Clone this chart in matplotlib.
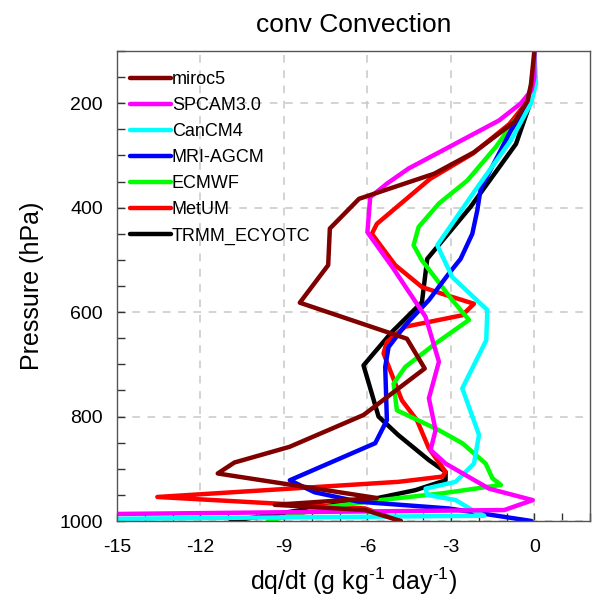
import matplotlib
matplotlib.use("Agg")
import matplotlib.pyplot as plt
from matplotlib.ticker import MultipleLocator, FixedLocator

plt.rcParams['font.family'] = ['Liberation Sans', 'DejaVu Sans']
plt.rcParams['axes.unicode_minus'] = False
plt.rcParams['mathtext.fontset'] = 'custom'
plt.rcParams['mathtext.rm'] = 'Liberation Sans'
plt.rcParams['mathtext.sf'] = 'Liberation Sans'

# convective moistening profiles, pressure (hPa) vs dq/dt (g/kg/day)
models = ["miroc5", "SPCAM3.0", "CanCM4", "MRI-AGCM", "ECMWF", "MetUM", "TRMM_ECYOTC"]
colors = ["#800000", "#ff00ff", "#00ffff", "#0000ff", "#00ff00", "#ff0000", "#000000"]

p_miroc5 = [100, 163, 195, 236, 294, 335, 383, 440, 510, 582, 651, 708, 797, 858, 888, 909, 956, 969, 979, 1000]
q_miroc5 = [0, -0.12, -0.24, -0.72, -2.17, -3.6, -6.3, -7.35, -7.41, -8.43, -4.58, -3.94, -6.14, -8.8, -10.78, -11.38, -5.66, -9.33, -6.08, -4.8]

p_spcam = [100, 150, 175, 200, 233, 284, 325, 354, 380, 447, 514, 609, 695, 765, 826, 864, 890, 938, 960, 979, 1000]
q_spcam = [0, 0, -0.1, -0.48, -1.27, -3.07, -4.52, -5.3, -5.9, -6.0, -5.1, -3.91, -3.43, -3.79, -3.55, -3.73, -3.19, -1.63, -0.06, -1.08, -40]

p_cancm4 = [100, 163, 200, 271, 361, 472, 533, 596, 654, 746, 835, 890, 925, 938, 950, 960, 979, 990, 1000]
q_cancm4 = [0, 0.06, -0.12, -0.84, -2.05, -3.49, -2.95, -1.69, -1.73, -2.59, -1.99, -2.17, -2.83, -3.91, -3.85, -2.83, -2.23, -1.8, -25]

p_mri = [100, 150, 201, 252, 364, 405, 450, 498, 526, 577, 625, 667, 705, 807, 851, 922, 945, 963, 976, 1000]
q_mri = [0, 0, -0.18, -0.84, -1.93, -2.05, -2.23, -2.65, -3.07, -3.79, -4.64, -5.24, -5.36, -5.3, -5.72, -8.79, -7.9, -6.32, -3.07, -0.1]

p_ecmwf = [100, 150, 200, 284, 348, 392, 437, 472, 501, 577, 615, 660, 705, 737, 788, 826, 851, 890, 918, 931, 947, 960, 973, 1000]
q_ecmwf = [0, 0, -0.25, -1.39, -2.41, -3.43, -4.16, -4.34, -4.04, -2.95, -2.35, -3.55, -4.64, -5.06, -4.94, -3.43, -2.59, -1.75, -1.51, -1.2, -3.31, -5.54, -7.41, -9.58]

p_metum = [100, 150, 200, 240, 297, 345, 431, 450, 510, 552, 565, 584, 606, 628, 657, 679, 769, 807, 861, 906, 915, 925, 954, 976, 1000]
q_metum = [0, 0, -0.3, -0.9, -2.23, -3.75, -5.66, -5.84, -5.0, -4.04, -3.31, -2.17, -2.59, -4.64, -5.3, -5.42, -4.76, -4.22, -3.79, -3.19, -3.31, -4.88, -13.55, -6.08, -4.8]

p_trmm = [100, 150, 200, 278, 399, 498, 581, 638, 702, 800, 835, 883, 906, 922, 941, 957, 1000]
q_trmm = [0, 0, -0.15, -0.66, -2.3, -3.85, -4.04, -5.12, -6.14, -5.6, -4.9, -3.8, -3.19, -3.19, -4.28, -5.72, -10.9]

profiles = [(q_miroc5, p_miroc5), (q_spcam, p_spcam), (q_cancm4, p_cancm4), (q_mri, p_mri),
            (q_ecmwf, p_ecmwf), (q_metum, p_metum), (q_trmm, p_trmm)]

fig = plt.figure(figsize=(5.96, 6.06), dpi=100)
ax = fig.add_axes([117 / 596, 1 - 521 / 606, 473 / 596, 470 / 606])

# last model in the list is drawn first so miroc5 ends up on top
handles = [None] * len(models)
for i in reversed(range(len(models))):
    q, p = profiles[i]
    line, = ax.plot(q, p, color=colors[i], lw=3.2, label=models[i],
                    solid_joinstyle='round', solid_capstyle='round')
    handles[i] = line

ax.set_xlim(-15, 2)
ax.set_ylim(1000, 100)

ax.xaxis.set_major_locator(FixedLocator([-15, -12, -9, -6, -3, 0]))
ax.xaxis.set_minor_locator(MultipleLocator(1))
ax.yaxis.set_major_locator(FixedLocator([200, 400, 600, 800, 1000]))
ax.yaxis.set_minor_locator(MultipleLocator(50))

ax.tick_params(which='both', direction='in', top=False, right=False,
               color='#333333', width=1.0, length=6)
ax.tick_params(axis='x', which='major', labelsize=14, pad=13)
ax.tick_params(axis='y', which='major', labelsize=14, pad=10)

for s in ax.spines.values():
    s.set_color('#555555')
    s.set_linewidth(1.0)

ax.grid(True, which='major', color='#c8c8c8', linestyle=(0, (5, 5)), lw=1.1)
ax.set_axisbelow(True)

ax.set_title("conv Convection", fontsize=19, pad=14)
ax.set_ylabel("Pressure (hPa)", fontsize=18, labelpad=11)
# hyphen (U+2010) in the exponents, as in the NCL-style units
ax.set_xlabel("dq/dt (g kg$^{\\mathrm{\u20101}}$ day$^{\\mathrm{\u20101}}$)", fontsize=18, labelpad=7)

ax.legend(handles=handles, loc='upper left', bbox_to_anchor=(0.028, 0.957),
          frameon=False, fontsize=13, handlelength=2.25, handletextpad=0.05,
          labelspacing=0.5, borderpad=0, borderaxespad=0)

fig.savefig("out.png", dpi=100)
